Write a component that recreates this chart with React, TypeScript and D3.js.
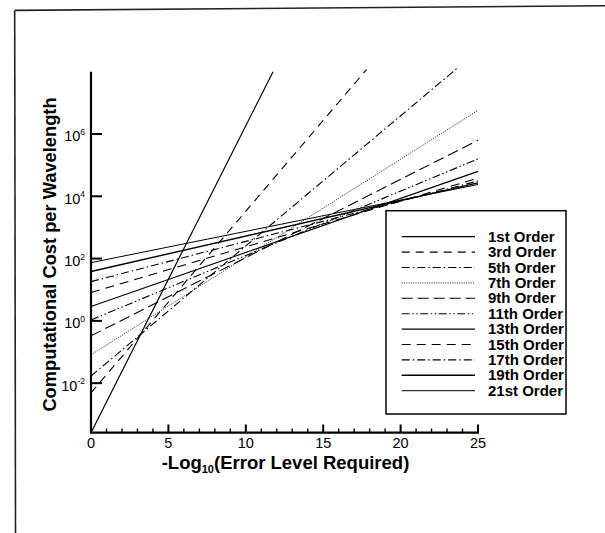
import React from "react";
import * as d3 from "d3";

// ---- data ----
const orders = ["1st", "3rd", "5th", "7th", "9th", "11th", "13th", "15th", "17th", "19th", "21st"];
// log10(cost) at x = 0
const startLog = [-3.59, -2.31, -1.77, -1.09, -0.48, 0.03, 0.46, 0.91, 1.26, 1.585, 1.87];
// x where the drawn line ends and log10(cost) there
const endX = [11.76, 17.8, 23.7, 25, 25, 25, 25, 25, 25, 25, 25];
const endLog = [8.0, 8.07, 8.13, 6.76, 5.8, 5.2, 4.8, 4.58, 4.49, 4.43, 4.38];
const xTicks = [0, 5, 10, 15, 20, 25];
const yTickExps = [-2, 0, 2, 4, 6];

const dashes = [
  "none",
  "8,6",
  "8,3,1.5,3",
  "1,1.3",
  "11,5",
  "8,2.5,1.5,2.5,1.5,2.5",
  "none",
  "9,6",
  "8,3,1.5,3",
  "none",
  "none",
];
const widths = [1.2, 1.1, 1.1, 0.9, 1.1, 1.1, 1.1, 1.1, 1.1, 1.4, 1.0];

const FONT = "'Liberation Sans', Arial, Helvetica, sans-serif";

export default function App() {
  const x = d3.scaleLinear().domain([0, 25]).range([91, 478]);
  const y = d3.scaleLog().domain([Math.pow(10, -3.59), 1e8]).range([432.7, 71.7]);
  const line = d3
    .line<[number, number]>()
    .x((d) => x(d[0]))
    .y((d) => y(Math.pow(10, d[1])));

  const minor = d3.range(0, 26).filter((v) => v % 5 !== 0);
  const legX0 = 401.7;
  const legX1 = 475;
  const legY0 = 236.7;
  const legDy = 15.4;

  return (
    <svg
      width={605}
      height={533}
      style={{ position: "absolute", left: 0, top: 0, background: "#fff" }}
      fontFamily={FONT}
    >
      <rect x={0} y={0} width={605} height={533} fill="#fff" />
      {/* page frame */}
      <path d="M14.7,10.4 L605,5.8" stroke="#222" strokeWidth={1.6} fill="none" />
      <path d="M14.7,10.4 L15.5,533" stroke="#222" strokeWidth={1.6} fill="none" />

      {/* series */}
      {orders.map((o, i) => (
        <path
          key={o}
          d={line([
            [0, startLog[i]],
            [endX[i], endLog[i]],
          ]) as string}
          fill="none"
          stroke="#000"
          strokeWidth={widths[i]}
          strokeDasharray={dashes[i]}
        />
      ))}

      {/* y axis */}
      <line x1={91} x2={91} y1={y(1e8)} y2={432.7} stroke="#000" strokeWidth={2.2} />
      {yTickExps.map((e) => (
        <g key={e}>
          <line x1={91} x2={102} y1={y(Math.pow(10, e))} y2={y(Math.pow(10, e))} stroke="#000" strokeWidth={2} />
          <text x={85} y={y(Math.pow(10, e)) + 7.5} textAnchor="end" fontSize={14.5}>
            <tspan>10</tspan>
            <tspan fontSize={8.5} dy={-6.5}>{String(e)}</tspan>
          </text>
        </g>
      ))}

      {/* x axis */}
      <line x1={90} x2={x(25) + 1} y1={432.7} y2={432.7} stroke="#000" strokeWidth={2.2} />
      {xTicks.map((t) => (
        <g key={t}>
          <line x1={x(t)} x2={x(t)} y1={432.7} y2={424.5} stroke="#000" strokeWidth={2} />
          <text x={x(t)} y={448} textAnchor="middle" fontSize={14.5}>
            {t}
          </text>
        </g>
      ))}
      {minor.map((t) => (
        <line key={t} x1={x(t)} x2={x(t)} y1={432.7} y2={428.5} stroke="#000" strokeWidth={1.4} />
      ))}

      {/* axis titles */}
      <text x={285.5} y={469} textAnchor="middle" fontSize={18.5} fontWeight="bold">
        <tspan>-Log</tspan>
        <tspan fontSize={11} dy={4}>10</tspan>
        <tspan dy={-4}>(Error Level Required)</tspan>
      </text>
      <text
        transform="translate(56,254.5) rotate(-90)"
        textAnchor="middle"
        fontSize={18.3}
        fontWeight="bold"
      >
        Computational Cost per Wavelength
      </text>

      {/* legend */}
      <rect x={386} y={210.7} width={180} height={203.3} fill="#fff" stroke="#000" strokeWidth={1.5} />
      {orders.map((o, i) => (
        <g key={"leg" + o}>
          <line
            x1={legX0}
            x2={legX1}
            y1={legY0 + i * legDy}
            y2={legY0 + i * legDy}
            stroke="#000"
            strokeWidth={widths[i]}
            strokeDasharray={dashes[i]}
          />
          <text x={488} y={legY0 + i * legDy + 5} fontSize={15} fontWeight="bold">
            {o} Order
          </text>
        </g>
      ))}
    </svg>
  );
}
